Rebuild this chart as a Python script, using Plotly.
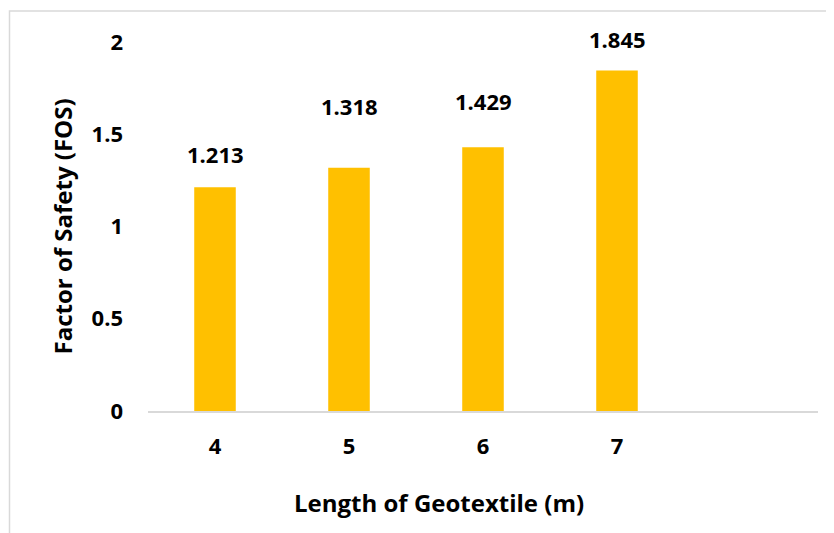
import plotly.graph_objects as go

categories = ["4", "5", "6", "7", " "]
fos_values = [1.213, 1.318, 1.429, 1.845, None]
label_texts = ["1.213", "1.318", "1.429", "1.845"]
y_ticks = [0, 0.5, 1, 1.5, 2]
y_tick_labels = ["0", "0.5", "1", "1.5", "2"]

# per-label vertical offsets (px) above bar tops, as placed in the original
label_shifts = [16, 45, 29, 15]

FONT = "Open Sans"
W, H = 834, 533
OFF = 8  # page body margin
SL, SR, ST, SB = 148, 818, 41.5, 411.5
L = SL - OFF
T = ST - OFF
R = W - (SR - OFF)
B = H - (SB - OFF)
pw, ph = SR - SL, SB - ST

def px_x(px):
    return (px - SL) / pw

def px_y(py):
    return (SB - py) / ph

fig = go.Figure()
fig.add_trace(go.Bar(
    x=categories, y=fos_values, width=0.31,
    marker=dict(color="#FFC000", line=dict(width=0)),
    hoverinfo="skip",
))

annotations = []
for i, (v, t, s) in enumerate(zip(fos_values, label_texts, label_shifts)):
    annotations.append(dict(
        x=i, y=v, xref="x", yref="y", text=t, showarrow=False,
        xanchor="center", yanchor="bottom", yshift=s,
        font=dict(family=FONT, size=22, color="#000000", weight="bold"),
    ))
annotations.append(dict(
    x=px_x(439), y=px_y(503), xref="paper", yref="paper",
    text="Length of Geotextile (m)", showarrow=False,
    xanchor="center", yanchor="middle",
    font=dict(family=FONT, size=24, color="#000000", weight="bold"),
))
annotations.append(dict(
    x=px_x(62), y=px_y(226.5), xref="paper", yref="paper",
    text="Factor of Safety (FOS)", showarrow=False, textangle=-90,
    xanchor="center", yanchor="middle",
    font=dict(family=FONT, size=24, color="#000000", weight="bold"),
))

fig.update_layout(
    width=W, height=H,
    margin=dict(l=L, r=R, t=T, b=B, pad=0),
    paper_bgcolor="white", plot_bgcolor="white",
    showlegend=False,
    annotations=annotations,
    shapes=[dict(
        type="rect", xref="paper", yref="paper",
        x0=px_x(9.5), x1=px_x(870), y0=px_y(10.5), y1=px_y(570),
        line=dict(color="#D9D9D9", width=1.5), fillcolor="rgba(0,0,0,0)",
        layer="below",
    )],
    xaxis=dict(
        type="category", categoryorder="array", categoryarray=categories,
        range=[-0.5, 4.5], showgrid=False, zeroline=False,
        showline=True, linecolor="#D9D9D9", linewidth=1.5,
        ticks="", ticklabelstandoff=15,
        tickfont=dict(family=FONT, size=22, color="#000000", weight="bold"),
        fixedrange=True,
    ),
    yaxis=dict(
        range=[0, 2], tickvals=y_ticks, ticktext=y_tick_labels,
        showgrid=False, zeroline=False, showline=False,
        ticks="", ticklabelstandoff=24,
        tickfont=dict(family=FONT, size=22, color="#000000", weight="bold"),
        fixedrange=True,
    ),
)

fig.write_html("out.html")
